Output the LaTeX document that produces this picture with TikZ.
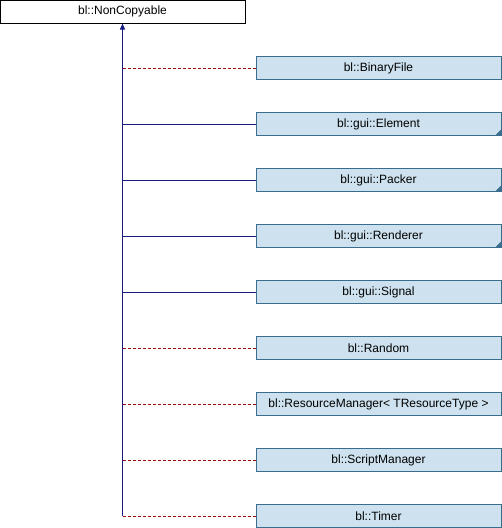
\documentclass[tikz,border=0pt]{standalone}
\usepackage{fontspec}
\setmainfont{Liberation Sans}
\usetikzlibrary{positioning,arrows.meta}
\definecolor{boxfill}{HTML}{CDE1EE}
\definecolor{boxline}{HTML}{3A6C8E}
\definecolor{publine}{HTML}{191980}
\definecolor{privline}{HTML}{9A0A0A}
\tikzset{
x=1pt, y=-1pt,
>={Triangle[length=6pt,width=5pt]},
node distance=32pt,
every node/.style={font=\fontsize{12}{14}\selectfont},
cls/.style={draw=boxline, fill=boxfill, line width=1pt, minimum width=245pt, minimum height=23pt, inner sep=0pt},
base/.style={draw=black, fill=white, line width=1pt, minimum width=245pt, minimum height=23pt, inner sep=0pt},
pub/.style={draw=publine, line width=1pt},
priv/.style={draw=privline, line width=1pt, dash pattern=on 3pt off 2pt},
}
\newcommand{\cutcorner}[1]{\fill[boxline] ([xshift=-0.5pt,yshift=0.5pt]#1.south east) -- ++(0,-6) -- ++(-6,6) -- cycle;}

\begin{document}
\begin{tikzpicture}
        \useasboundingbox (0,0) rectangle (502,528);
        \node[base] (nc) at (122.5,11.5) {bl::NonCopyable};

        \node[cls] (bf) at (378.5,68) {bl::BinaryFile};
        \node[cls,below=of bf] (el) {bl::gui::Element};
        \node[cls,below=of el] (pk) {bl::gui::Packer};
        \node[cls,below=of pk] (rd) {bl::gui::Renderer};
        \node[cls,below=of rd] (sg) {bl::gui::Signal};
        \node[cls,below=of sg] (rn) {bl::Random};
        \node[cls,below=of rn] (rm) {bl::ResourceManager< TResourceType >};
        \node[cls,below=of rm] (sm) {bl::ScriptManager};
        \node[cls,below=of sm] (tm) {bl::Timer};

        \cutcorner{el}
        \cutcorner{pk}
        \cutcorner{rd}

        \draw[priv] (bf.west) -- (nc.south |- bf.west);
        \draw[pub] (el.west) -- (nc.south |- el.west);
        \draw[pub] (pk.west) -- (nc.south |- pk.west);
        \draw[pub] (rd.west) -- (nc.south |- rd.west);
        \draw[pub] (sg.west) -- (nc.south |- sg.west);
        \draw[priv] (rn.west) -- (nc.south |- rn.west);
        \draw[priv] (rm.west) -- (nc.south |- rm.west);
        \draw[priv] (sm.west) -- (nc.south |- sm.west);
        \draw[priv] (tm.west) -- (nc.south |- tm.west);

        \draw[pub,->] (nc.south |- tm.west) -- (nc.south);
\end{tikzpicture}
\end{document}
